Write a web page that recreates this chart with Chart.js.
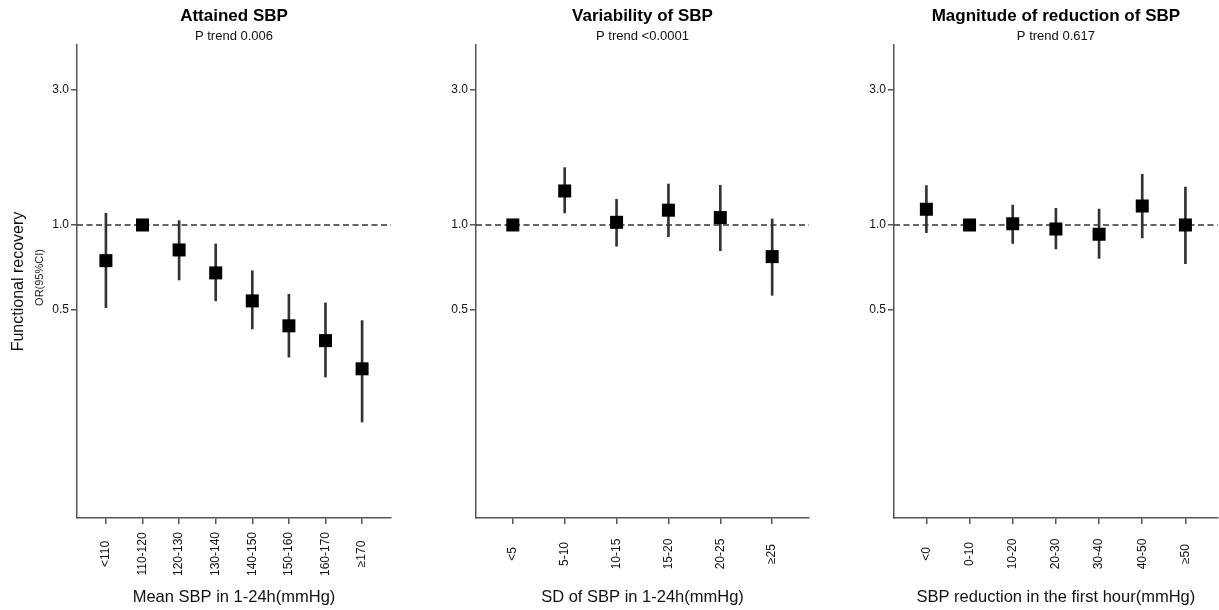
<!DOCTYPE html>
<html><head><meta charset="utf-8">
<script src="https://cdn.jsdelivr.net/npm/chart.js@4.4.1/dist/chart.umd.min.js"></script>
<style>
html,body{margin:0;padding:0;background:#fff;width:1219px;height:610px;overflow:hidden;position:relative}
canvas{position:absolute;top:0}
</style></head><body>
<canvas id="c1" width="420" height="610" style="left:0px"></canvas>
<canvas id="c2" width="400" height="610" style="left:420px"></canvas>
<canvas id="c3" width="407" height="610" style="left:820px"></canvas>
<script>
// ---------- data ----------
const attainedCats = ['<110','110-120','120-130','130-140','140-150','150-160','160-170','\u2265170'];
const attainedOR   = [0.748, 1.000, 0.816, 0.677, 0.539, 0.440, 0.390, 0.310];
const attainedLow  = [0.510, null,  0.639, 0.539, 0.429, 0.341, 0.290, 0.201];
const attainedHigh = [1.100, null,  1.036, 0.857, 0.689, 0.569, 0.530, 0.459];

const variabilityCats = ['<5','5-10','10-15','15-20','20-25','\u226525'];
const variabilityOR   = [1.000, 1.319, 1.022, 1.128, 1.062, 0.773];
const variabilityLow  = [null,  1.103, 0.841, 0.909, 0.811, 0.564];
const variabilityHigh = [null,  1.595, 1.233, 1.396, 1.381, 1.050];

const reductionCats = ['<0','0-10','10-20','20-30','30-40','40-50','\u226550'];
const reductionOR   = [1.136, 1.000, 1.011, 0.968, 0.927, 1.167, 1.000];
const reductionLow  = [0.940, null,  0.860, 0.823, 0.761, 0.900, 0.730];
const reductionHigh = [1.378, null,  1.177, 1.145, 1.139, 1.511, 1.362];

const yTickValues = [0.5, 1.0, 3.0];
const referenceOR = 1.0;

const titles    = ['Attained SBP', 'Variability of SBP', 'Magnitude of reduction of SBP'];
const subtitles = ['P trend 0.006', 'P trend <0.0001', 'P trend 0.617'];
const xTitles   = ['Mean SBP in 1-24h(mmHg)', 'SD of SBP in 1-24h(mmHg)', 'SBP reduction in the first hour(mmHg)'];
const yTitle    = 'Functional recovery';
const ySubTitle = 'OR(95%CI)';

// ---------- helpers ----------
const FONT = "'Liberation Sans', Arial, Helvetica, sans-serif";
const AXIS = '#555';

function makePanel(id, p) {
  const xTickLabels = {
    id: 'xTickLabels' + id,
    afterDraw(chart) {
      const ctx = chart.ctx, xs = chart.scales.x, area = chart.chartArea;
      ctx.save();
      ctx.font = '12px ' + FONT;
      ctx.fillStyle = '#111';
      ctx.textAlign = 'center';
      ctx.textBaseline = 'middle';
      p.cats.forEach((c, i) => {
        const px = xs.getPixelForValue(i);
        ctx.save();
        ctx.translate(px, area.bottom + 36);
        ctx.rotate(-Math.PI / 2);
        ctx.fillText(c, 0, 0);
        ctx.restore();
      });
      if (p.showYTitle) {
        ctx.font = '11px ' + FONT;
        ctx.fillStyle = '#222';
        ctx.translate(40, (area.top + area.bottom) / 2 - 4);
        ctx.rotate(-Math.PI / 2);
        ctx.fillText(ySubTitle, 0, 0);
      }
      ctx.restore();
    }
  };
  const gridOpts = {display: true, offset: false, drawOnChartArea: false, drawTicks: true, tickLength: 6, color: AXIS, lineWidth: 1.5};
  const borderOpts = {display: true, color: AXIS, width: 1.5};
  return new Chart(document.getElementById(id), {
    type: 'scatter',
    data: {
      datasets: [
        {
          label: 'OR',
          data: p.cats.map((c, i) => ({x: i, y: p.or[i]})),
          pointStyle: 'rect', pointRadius: 9.2, pointHoverRadius: 9.2,
          backgroundColor: '#000', borderWidth: 0, order: 0
        },
        {
          type: 'bar', label: '95% CI',
          data: p.cats.map((c, i) => ({x: i, y: p.lo[i] == null ? null : [p.lo[i], p.hi[i]]})),
          backgroundColor: '#333', borderWidth: 0, barThickness: 2, order: 1
        },
        {
          type: 'line', label: 'reference',
          data: [{x: p.xMin, y: referenceOR}, {x: p.xMax, y: referenceOR}],
          borderColor: '#333', borderWidth: 1.6, borderDash: [6, 3.5],
          pointRadius: 0, fill: false, order: 2
        }
      ]
    },
    options: {
      responsive: false, animation: false, devicePixelRatio: 1,
      layout: {padding: {left: 0, right: p.padRight, top: 0, bottom: 0}},
      plugins: {
        legend: {display: false}, tooltip: {enabled: false},
        title: {display: true, text: p.title, fullSize: false, color: '#000',
                font: {family: FONT, size: 17, weight: 'bold'}, padding: {top: 6, bottom: 0}},
        subtitle: {display: true, text: p.subtitle, fullSize: false, color: '#111',
                   font: {family: FONT, size: 13}, padding: {top: 2, bottom: 1}}
      },
      scales: {
        x: {
          type: 'linear', min: p.xMin, max: p.xMax, offset: false,
          afterBuildTicks: s => { s.ticks = p.cats.map((c, i) => ({value: i})); },
          afterFit: s => { s.height = 92; },
          ticks: {display: false},
          grid: gridOpts, border: borderOpts,
          title: {display: true, text: p.xTitle, color: '#111',
                  font: {family: FONT, size: 16.5}, padding: {top: 0, bottom: 3}}
        },
        y: {
          type: 'logarithmic', min: 0.092, max: 4.33,
          afterBuildTicks: s => { s.ticks = yTickValues.map(v => ({value: v})); },
          afterFit: s => { s.width = p.yWidth; },
          ticks: {callback: v => Number(v).toFixed(1), color: '#111', padding: 2, autoSkip: false,
                  font: {family: FONT, size: 12}},
          grid: gridOpts, border: borderOpts,
          title: p.showYTitle
            ? {display: true, text: yTitle, color: '#111', font: {family: FONT, size: 16}, padding: {top: 8.5, bottom: 0}}
            : {display: false}
        }
      }
    },
    plugins: [xTickLabels]
  });
}

makePanel('c1', {cats: attainedCats, or: attainedOR, lo: attainedLow, hi: attainedHigh,
  xMin: -0.79, xMax: 7.79, yWidth: 77, padRight: 29, title: titles[0], subtitle: subtitles[0],
  xTitle: xTitles[0], showYTitle: true});
makePanel('c2', {cats: variabilityCats, or: variabilityOR, lo: variabilityLow, hi: variabilityHigh,
  xMin: -0.71, xMax: 5.71, yWidth: 56, padRight: 11, title: titles[1], subtitle: subtitles[1],
  xTitle: xTitles[1], showYTitle: false});
makePanel('c3', {cats: reductionCats, or: reductionOR, lo: reductionLow, hi: reductionHigh,
  xMin: -0.75, xMax: 6.75, yWidth: 74, padRight: 0, title: titles[2], subtitle: subtitles[2],
  xTitle: xTitles[2], showYTitle: false});
</script>
</body></html>
